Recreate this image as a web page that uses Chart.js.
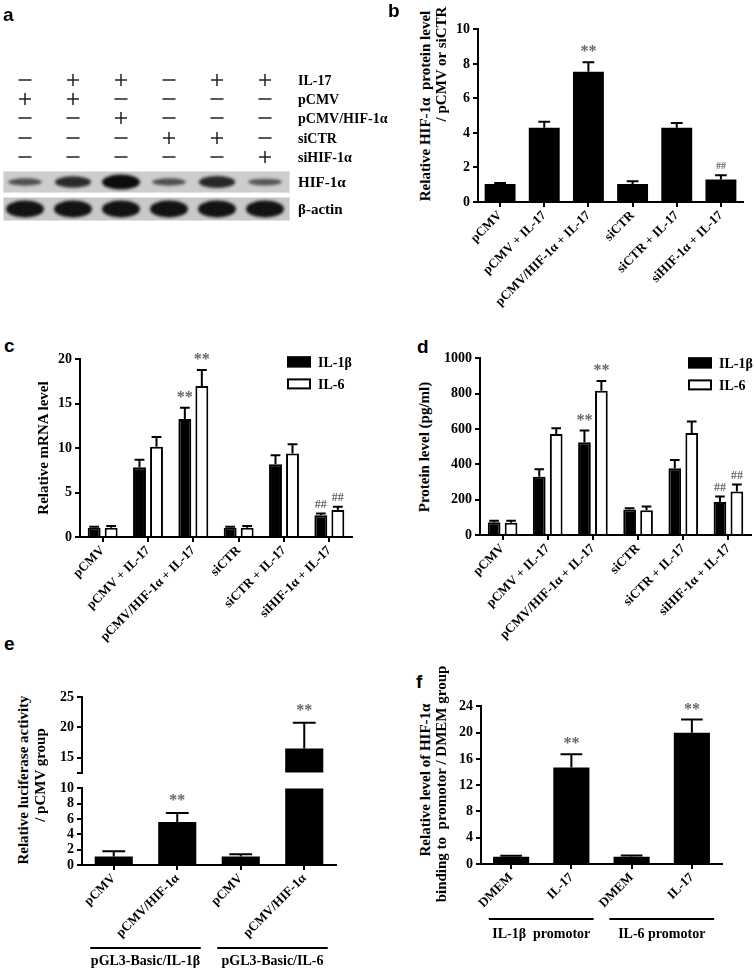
<!DOCTYPE html>
<html>
<head>
<meta charset="utf-8">
<script src="https://cdn.jsdelivr.net/npm/chart.js@4.4.1/dist/chart.umd.min.js"></script>
<style>
body { margin: 0; background: #fff; }
#page { position: relative; width: 754px; height: 968px; overflow: hidden; }
canvas { position: absolute; }
.let { position: absolute; font: bold 19px 'Liberation Sans', Arial, sans-serif; line-height: 19px; }
.vt { position: absolute; width: 300px; height: 16px; line-height: 16px; text-align: center; white-space: pre;
      font: bold 15px 'Liberation Serif', serif; transform: rotate(-90deg); }
</style>
</head>
<body>
<div id="page"></div>
<script>
// ---- panel a: western blot ----
var laneIds = [1, 2, 3, 4, 5, 6];
var treatNames = ['IL-17', 'pCMV', 'pCMV/HIF-1α', 'siCTR', 'siHIF-1α'];
var treatIL17 = ['-', '+', '+', '-', '+', '+'];
var treatPCMV = ['+', '+', '-', '-', '-', '-'];
var treatHIF = ['-', '-', '+', '-', '-', '-'];
var treatSiCTR = ['-', '-', '-', '+', '+', '-'];
var treatSiHIF = ['-', '-', '-', '-', '-', '+'];
var bandNames = ['HIF-1α', 'β-actin'];
var hifBand = [0.3, 0.68, 1.0, 0.3, 0.72, 0.25];
var actinBand = [1, 1, 1, 1, 1, 1];

// ---- shared categories ----
var groupLabels = ['pCMV', 'pCMV + IL-17', 'pCMV/HIF-1α + IL-17', 'siCTR', 'siCTR + IL-17', 'siHIF-1α + IL-17'];

// ---- panel b ----
var bMean = [1.05, 4.3, 7.55, 1.05, 4.3, 1.3];
var bErr = [1.1, 4.65, 8.1, 1.2, 4.58, 1.55];
var bMarks = ['', '', '**', '', '', '##'];

// ---- panel c ----
var seriesNames = ['IL-1β', 'IL-6'];
var cIL1b = [1.05, 7.85, 13.3, 1.05, 8.2, 2.45];
var cIL1bErr = [1.15, 8.7, 14.55, 1.15, 9.2, 2.65];
var cIL6 = [1.05, 10.15, 17.0, 1.05, 9.4, 3.05];
var cIL6Err = [1.25, 11.25, 18.8, 1.25, 10.45, 3.4];
var cMarks1 = ['', '', '**', '', '', '##'];
var cMarks2 = ['', '', '**', '', '', '##'];

// ---- panel d ----
var dIL1b = [72, 330, 525, 145, 378, 187];
var dIL1bErr = [80, 372, 592, 152, 425, 218];
var dIL6 = [70, 572, 817, 140, 577, 247];
var dIL6Err = [80, 605, 872, 162, 643, 286];

// ---- panel e ----
var eLabels = ['pCMV', 'pCMV/HIF-1α', 'pCMV', 'pCMV/HIF-1α'];
var eMean = [1.1, 5.6, 1.1, 16.5];
var eErr = [1.8, 6.8, 1.4, 20.8];
var eMarks = ['', '**', '', '**'];
var eUpperTicks = [12.5, 15, 20, 25];
var eLowerTicks = [0, 2, 4, 6, 8, 10];
var eGroupNames = ['pGL3-Basic/IL-1β', 'pGL3-Basic/IL-6'];

// ---- panel f ----
var fLabels = ['DMEM', 'IL-17', 'DMEM', 'IL-17'];
var fMean = [1.1, 14.7, 1.1, 20.0];
var fErr = [1.25, 16.7, 1.3, 22.0];
var fMarks = ['', '**', '', '**'];
var fGroupNames = ['IL-1β  promotor', 'IL-6 promotor'];

var page = document.getElementById('page');
var serif = '"Liberation Serif", "Times New Roman", serif';
var xFont = { family: serif, weight: 'bold', size: 13 };
var yFont = { family: serif, weight: 'bold', size: 14 };

function makeCanvas(left, top, w, h) {
    var c = document.createElement('canvas');
    c.width = w; c.height = h;
    c.style.left = left + 'px'; c.style.top = top + 'px';
    c.style.width = w + 'px'; c.style.height = h + 'px';
    page.appendChild(c);
    return c.getContext('2d');
}
function letter(t, x, y) {
    var d = document.createElement('div');
    d.className = 'let'; d.textContent = t;
    d.style.left = x + 'px'; d.style.top = y + 'px';
    page.appendChild(d);
}
function vtext(t, cx, cy) {
    var d = document.createElement('div');
    d.className = 'vt'; d.textContent = t;
    d.style.left = (cx - 150) + 'px'; d.style.top = (cy - 8) + 'px';
    page.appendChild(d);
}

var errorBars = {
    id: 'errorBars',
    afterDatasetsDraw: function (chart, args, opts) {
        var ctx = chart.ctx, ys = chart.scales.y;
        ctx.save();
        chart.data.datasets.forEach(function (ds, di) {
            var meta = chart.getDatasetMeta(di);
            meta.data.forEach(function (bar, i) {
                var v = ds.data[i], e = ds.errorTop[i];
                if (v < ys.min || e > ys.max) return;
                var yTop = ys.getPixelForValue(v), yCap = ys.getPixelForValue(e);
                var half = bar.width * opts.cap;
                ctx.strokeStyle = '#000'; ctx.lineWidth = 2;
                ctx.beginPath();
                ctx.moveTo(bar.x, yTop); ctx.lineTo(bar.x, yCap);
                ctx.moveTo(bar.x - half, yCap); ctx.lineTo(bar.x + half, yCap);
                ctx.stroke();
                var m = ds.marks && ds.marks[i];
                if (m) {
                    ctx.fillStyle = '#666';
                    ctx.font = 'bold ' + (m == '**' ? opts.star : opts.hash) + 'px ' + serif;
                    ctx.textAlign = 'center'; ctx.textBaseline = 'middle';
                    ctx.fillText(m, bar.x, yCap - (m == '**' ? opts.gap : opts.gap - 1));
                }
            });
        });
        ctx.restore();
    }
};

var boxLegend = {
    id: 'boxLegend',
    afterDraw: function (chart, args, opts) {
        var ctx = chart.ctx, a = chart.chartArea;
        ctx.save();
        chart.data.datasets.forEach(function (ds, i) {
            var x = a.right - opts.right, y = a.top + opts.top + i * opts.step;
            ctx.fillStyle = ds.backgroundColor;
            ctx.fillRect(x, y, opts.w, opts.h);
            ctx.strokeStyle = '#000'; ctx.lineWidth = 2;
            ctx.strokeRect(x + 1, y + 1, opts.w - 2, opts.h - 2);
            ctx.fillStyle = '#000';
            ctx.font = 'bold 14px ' + serif;
            ctx.textAlign = 'left'; ctx.textBaseline = 'middle';
            ctx.fillText(ds.label, x + opts.w + 7, y + opts.h / 2 + 1);
        });
        ctx.restore();
    }
};

var groupLines = {
    id: 'groupLines',
    afterDraw: function (chart, args, opts) {
        var ctx = chart.ctx, xs = chart.scales.x, a = chart.chartArea;
        var cw = xs.getPixelForValue(1) - xs.getPixelForValue(0);
        ctx.save();
        opts.names.forEach(function (name, g) {
            var x0 = xs.getPixelForValue(g * 2) - cw * 0.37;
            var x1 = xs.getPixelForValue(g * 2 + 1) + cw * 0.37;
            ctx.strokeStyle = '#000'; ctx.lineWidth = 2;
            ctx.beginPath();
            ctx.moveTo(x0, a.bottom + opts.lineY); ctx.lineTo(x1, a.bottom + opts.lineY);
            ctx.stroke();
            ctx.fillStyle = '#000';
            ctx.font = 'bold 14px ' + serif;
            ctx.textAlign = 'center'; ctx.textBaseline = 'middle';
            ctx.fillText(name, (x0 + x1) / 2, a.bottom + opts.textY);
        });
        ctx.restore();
    }
};

var blot = {
    id: 'blot',
    afterDraw: function (chart) {
        var ctx = chart.ctx, xs = chart.scales.x;
        var rows = [treatIL17, treatPCMV, treatHIF, treatSiCTR, treatSiHIF];
        var rowY = [80, 99, 118, 138, 157];
        ctx.save();
        ctx.textBaseline = 'middle';
        rows.forEach(function (row, r) {
            row.forEach(function (s, i) {
                var x = xs.getPixelForValue(laneIds[i]);
                ctx.fillStyle = '#222';
                if (s == '+') {
                    ctx.fillRect(x - 6, rowY[r] - 0.75, 12, 1.5);
                    ctx.fillRect(x - 0.75, rowY[r] - 6, 1.5, 12);
                } else {
                    ctx.fillRect(x - 6.5, rowY[r] - 0.75, 13, 1.5);
                }
            });
            ctx.fillStyle = '#000';
            ctx.font = 'bold 14px ' + serif;
            ctx.textAlign = 'left';
            ctx.fillText(treatNames[r], 298, rowY[r] + 1);
        });
        // blot strips
        var strips = [{ y: 171, h: 22, c: '#cdcdcd', band: hifBand }, { y: 197, h: 24, c: '#c8c8c8', band: actinBand }];
        strips.forEach(function (st, k) {
            ctx.fillStyle = st.c;
            ctx.fillRect(3, st.y, 287, st.h);
            ctx.strokeStyle = '#e2e2e2'; ctx.lineWidth = 1;
            ctx.strokeRect(3.5, st.y + 0.5, 286, st.h - 1);
            st.band.forEach(function (lv, i) {
                var x = xs.getPixelForValue(laneIds[i]);
                var rx = k == 0 ? 16 + 3 * lv : 19;
                var ry = k == 0 ? 2 + 5.5 * lv : 8.5;
                var al = k == 0 ? 0.5 + 0.5 * lv : 0.97;
                ctx.save();
                ctx.filter = 'blur(1.6px)';
                ctx.fillStyle = 'rgba(12,12,12,' + al + ')';
                ctx.beginPath();
                ctx.ellipse(x, st.y + st.h / 2, rx, ry, 0, 0, Math.PI * 2);
                ctx.fill();
                ctx.restore();
            });
            ctx.fillStyle = '#000';
            ctx.font = 'bold 15px ' + serif;
            ctx.textAlign = 'left';
            ctx.fillText(bandNames[k], 298, st.y + st.h / 2 + 1);
        });
        ctx.restore();
    }
};

function xScale(h, show) {
    return {
        display: show,
        grid: { display: true, drawOnChartArea: false, offset: false, tickLength: 5, color: '#000', lineWidth: 2 },
        border: { display: true, color: '#000', width: 2 },
        ticks: { font: xFont, color: '#000', minRotation: 45, maxRotation: 45, autoSkip: false, padding: 1 },
        afterFit: function (s) { s.height = h; }
    };
}
function yScale(min, max, step, w) {
    return {
        min: min, max: max,
        grid: { display: true, drawOnChartArea: false, tickLength: 5, color: '#000', lineWidth: 2 },
        border: { display: true, color: '#000', width: 2 },
        ticks: { stepSize: step, font: yFont, color: '#000', padding: 3, autoSkip: false,
                 callback: function (v) { return String(v); } },
        afterFit: function (s) { s.width = w; }
    };
}
function baseOptions(pad, xs, ys, extra) {
    var plugins = { legend: { display: false }, tooltip: { enabled: false } };
    for (var k in extra) plugins[k] = extra[k];
    return {
        responsive: false, animation: false,
        layout: { padding: pad },
        plugins: plugins,
        scales: { x: xs, y: ys }
    };
}

// panel a
new Chart(makeCanvas(0, 0, 400, 240), {
    type: 'scatter',
    data: { datasets: [] },
    options: {
        responsive: false, animation: false,
        layout: { padding: { left: 1, right: 111, top: 0, bottom: 0 } },
        plugins: { legend: { display: false }, tooltip: { enabled: false } },
        scales: {
            x: { type: 'linear', min: 0.5, max: 6.5, display: false },
            y: { min: 0, max: 1, display: false }
        }
    },
    plugins: [blot]
});

// panel b
new Chart(makeCanvas(438, 18, 313, 302), {
    type: 'bar',
    data: {
        labels: groupLabels,
        datasets: [{ data: bMean, errorTop: bErr, marks: bMarks, backgroundColor: '#000', barPercentage: 0.7, categoryPercentage: 1 }]
    },
    options: baseOptions({ left: 0, right: 8, top: 10, bottom: 0 }, xScale(118, true), yScale(0, 10, 2, 40),
        { errorBars: { cap: 0.19, gap: 10, star: 16, hash: 10 } }),
    plugins: [errorBars]
});

// panel c
new Chart(makeCanvas(40, 348, 320, 307), {
    type: 'bar',
    data: {
        labels: groupLabels,
        datasets: [
            { label: seriesNames[0], data: cIL1b, errorTop: cIL1bErr, marks: cMarks1, backgroundColor: '#000', borderColor: '#000', borderWidth: 2, barPercentage: 0.76, categoryPercentage: 0.75 },
            { label: seriesNames[1], data: cIL6, errorTop: cIL6Err, marks: cMarks2, backgroundColor: '#fff', borderColor: '#000', borderWidth: 2, barPercentage: 0.76, categoryPercentage: 0.75 }
        ]
    },
    options: baseOptions({ left: 0, right: 8, top: 10, bottom: 0 }, xScale(118, true), yScale(0, 20, 5, 40),
        { errorBars: { cap: 0.38, gap: 10, star: 16, hash: 12 }, boxLegend: { right: 65, top: -3, step: 22, w: 24, h: 11 } }),
    plugins: [errorBars, boxLegend]
});

// panel d
new Chart(makeCanvas(435, 347, 319, 306), {
    type: 'bar',
    data: {
        labels: groupLabels,
        datasets: [
            { label: seriesNames[0], data: dIL1b, errorTop: dIL1bErr, marks: cMarks1, backgroundColor: '#000', borderColor: '#000', borderWidth: 2, barPercentage: 0.75, categoryPercentage: 0.75 },
            { label: seriesNames[1], data: dIL6, errorTop: dIL6Err, marks: cMarks2, backgroundColor: '#fff', borderColor: '#000', borderWidth: 2, barPercentage: 0.75, categoryPercentage: 0.75 }
        ]
    },
    options: baseOptions({ left: 0, right: 3, top: 10, bottom: 0 }, xScale(118, true), yScale(0, 1000, 200, 45),
        { errorBars: { cap: 0.38, gap: 10, star: 16, hash: 12 }, boxLegend: { right: 63, top: -1, step: 22, w: 24, h: 11 } }),
    plugins: [errorBars, boxLegend]
});

// panel e, upper part of the broken axis
var eUpperY = yScale(12.5, 25, 5, 40);
eUpperY.afterBuildTicks = function (s) { s.ticks = eUpperTicks.map(function (v) { return { value: v }; }); };
eUpperY.ticks.callback = function (v) { return v == 12.5 ? '' : String(v); };
new Chart(makeCanvas(42, 686, 302, 98), {
    type: 'bar',
    data: {
        labels: eLabels,
        datasets: [{ data: eMean, errorTop: eErr, marks: eMarks, backgroundColor: '#000', barPercentage: 0.6, categoryPercentage: 1, clip: 0 }]
    },
    options: baseOptions({ left: 0, right: 8, top: 10, bottom: 10 }, xScale(0, false), eUpperY,
        { errorBars: { cap: 0.3, gap: 12, star: 16, hash: 12 } }),
    plugins: [errorBars]
});

// panel e, lower part
var eLowerY = yScale(0, 10, 2, 40);
eLowerY.afterBuildTicks = function (s) { s.ticks = eLowerTicks.map(function (v) { return { value: v }; }); };
new Chart(makeCanvas(42, 777, 302, 191), {
    type: 'bar',
    data: {
        labels: eLabels,
        datasets: [{ data: eMean, errorTop: eErr, marks: eMarks, backgroundColor: '#000', barPercentage: 0.6, categoryPercentage: 1, clip: 0 }]
    },
    options: baseOptions({ left: 0, right: 8, top: 10, bottom: 0 }, xScale(103, true), eLowerY,
        { errorBars: { cap: 0.3, gap: 12, star: 16, hash: 12 }, groupLines: { names: eGroupNames, lineY: 83, textY: 96 } }),
    plugins: [errorBars, groupLines]
});

// panel f
new Chart(makeCanvas(441, 695, 289, 254), {
    type: 'bar',
    data: {
        labels: fLabels,
        datasets: [{ data: fMean, errorTop: fErr, marks: fMarks, backgroundColor: '#000', barPercentage: 0.6, categoryPercentage: 1 }]
    },
    options: baseOptions({ left: 0, right: 8, top: 10, bottom: 0 }, xScale(85, true), yScale(0, 24, 4, 40),
        { errorBars: { cap: 0.3, gap: 10, star: 16, hash: 12 }, groupLines: { names: fGroupNames, lineY: 55, textY: 70 } }),
    plugins: [errorBars, groupLines]
});

// panel letters and axis titles
letter('a', 3, 5); letter('b', 388, 1); letter('c', 4, 336);
letter('d', 417, 337); letter('e', 4, 634); letter('f', 416, 672);
vtext('Relative HIF-1α  protein level', 425, 106);
vtext('/ pCMV or siCTR', 441, 64);
vtext('Relative mRNA level', 43, 448);
vtext('Protein level (pg/ml)', 424, 447);
vtext('Relative luciferase activity', 23, 780);
vtext('/ pCMV group', 40, 775);
vtext('Relative level of HIF-1α', 425, 780);
vtext('binding to  promotor / DMEM group', 441, 784);
</script>
</body>
</html>
